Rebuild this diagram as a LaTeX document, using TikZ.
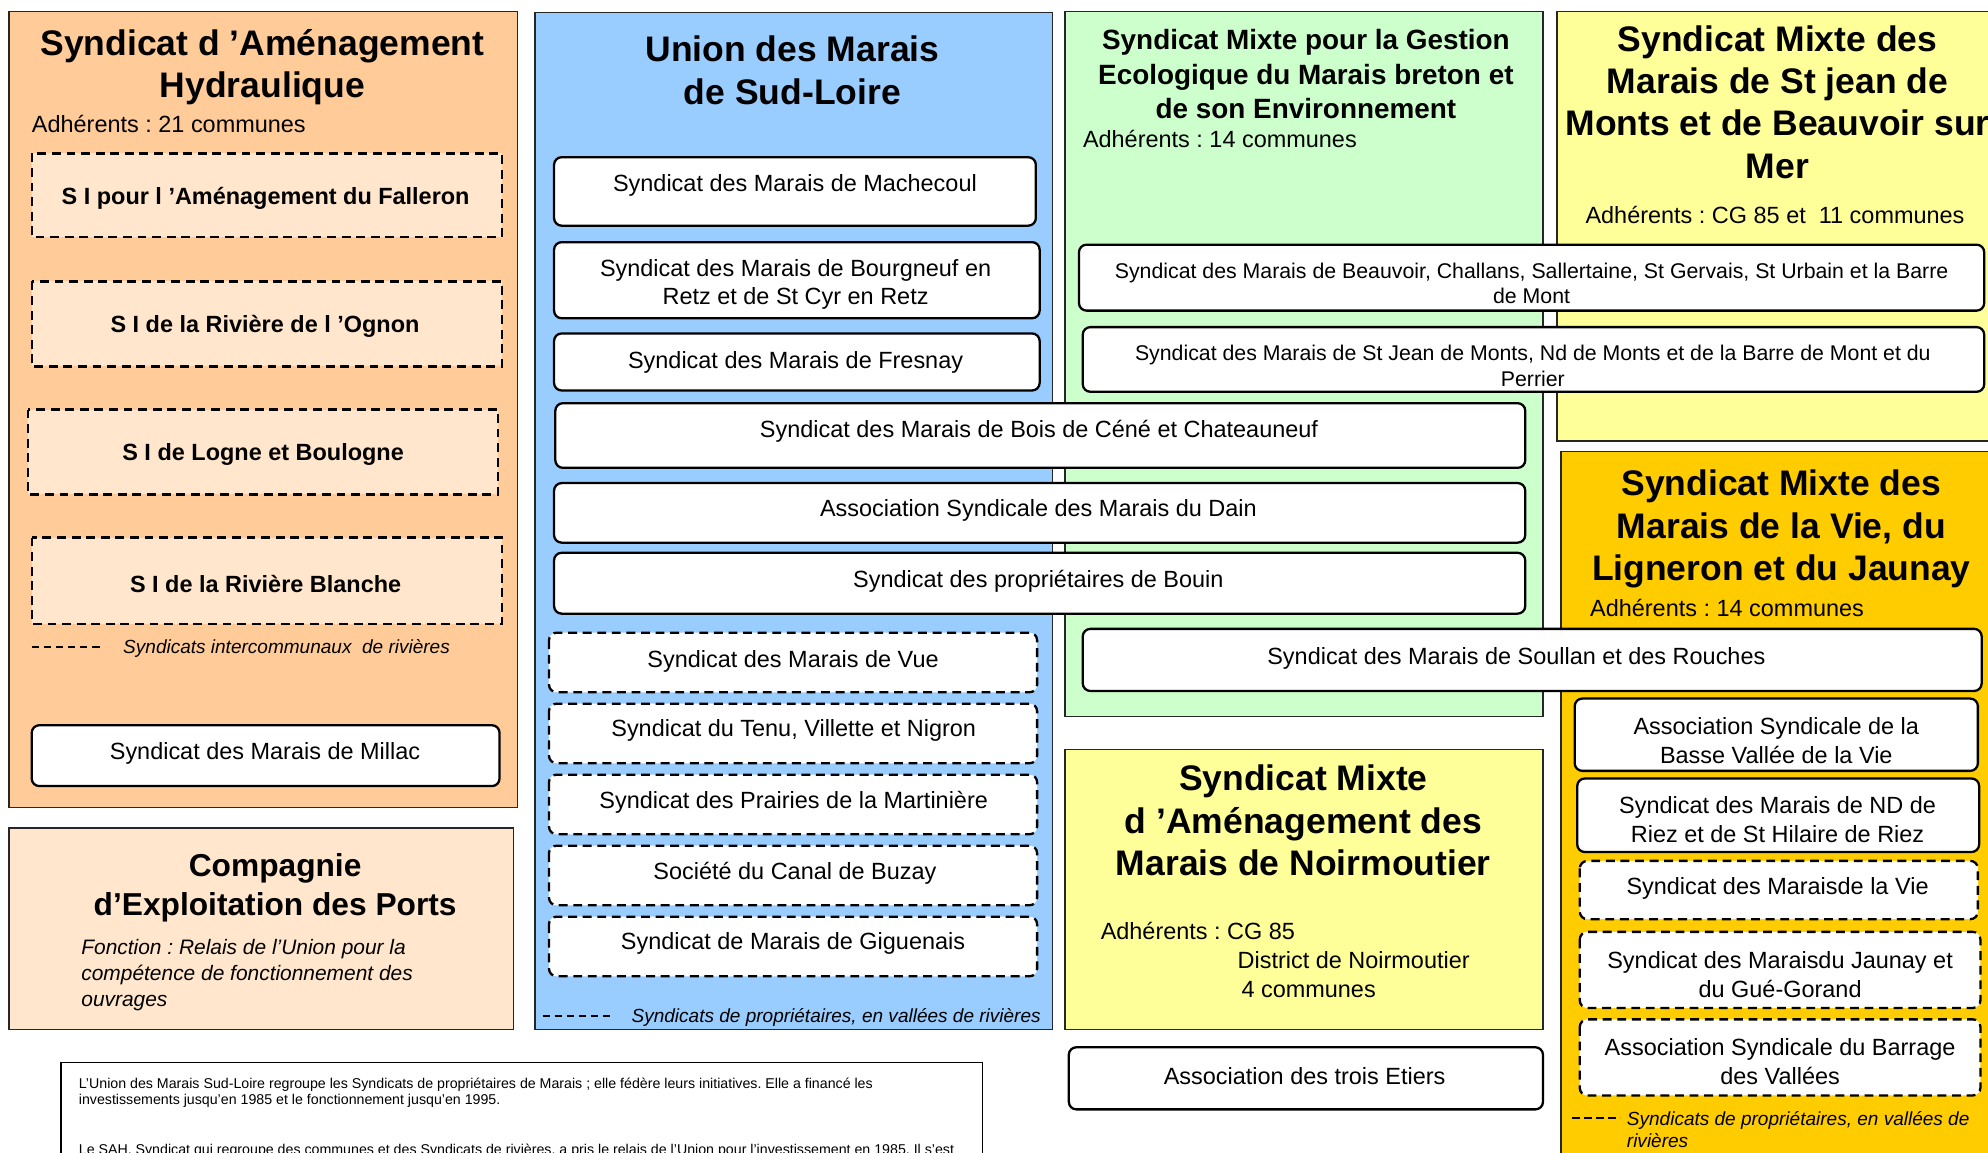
\documentclass[tikz,border=0pt]{standalone}
\usepackage{fontspec}
\setmainfont{Liberation Sans}
\usepackage{tikz}

\definecolor{sahorange}{HTML}{FFCC99}
\definecolor{sahlight}{HTML}{FFE6CC}
\definecolor{unionblue}{HTML}{99CCFF}
\definecolor{bretongreen}{HTML}{CCFFCC}
\definecolor{mixteyellow}{HTML}{FFFF99}
\definecolor{viegold}{HTML}{FFCC00}

\newcommand{\mtitle}{\fontsize{28}{33.5}\selectfont\bfseries}
\newcommand{\mgreen}{\fontsize{22}{27}\selectfont\bfseries}
\newcommand{\mports}{\fontsize{25}{31}\selectfont\bfseries}
\newcommand{\mbody}{\fontsize{18.5}{22.5}\selectfont}
\newcommand{\msmall}{\fontsize{16.8}{20}\selectfont}
\newcommand{\mnote}{\fontsize{15}{17}\selectfont\itshape}
\newcommand{\mtiny}{\fontsize{11.2}{13}\selectfont}

\begin{document}
\frenchspacing
\begin{tikzpicture}[x=1pt, y=-1pt,
	panel/.style={draw=black!85, line width=1.2pt},
	solidbox/.style={draw=black, fill=white, line width=1.8pt, rounded corners=6pt},
	dashbox/.style={solidbox, dash pattern=on 7pt off 4.5pt},
	sibox/.style={draw=black, fill=sahlight, line width=1.8pt, dash pattern=on 7pt off 4.5pt},
	legend/.style={line width=1.6pt, dash pattern=on 6pt off 3.5pt},
	lbl/.style={inner sep=0pt, align=center, yshift=-1.5pt}]

	\useasboundingbox (0,0) rectangle (1568,909.4);

	% panels
	\draw[panel, fill=sahorange] (7,9) rectangle (408,637);
	\draw[panel, fill=sahlight] (7,653) rectangle (405,812);
	\draw[panel, fill=unionblue] (422,10) rectangle (830,812);
	\draw[panel, fill=bretongreen] (840,9) rectangle (1217,565);
	\draw[panel, fill=mixteyellow] (1228,9) rectangle (1590,348);
	\draw[panel, fill=viegold] (1231,356) rectangle (1590,930);
	\draw[panel, fill=mixteyellow] (840,591) rectangle (1217,812);
	\draw[line width=1.2pt, fill=white] (48,838) rectangle (775,960);

	% Syndicat d'Amenagement Hydraulique
	\node[lbl, font=\mtitle] (sah) at (207,51.5) {Syndicat d 'Aménagement\\Hydraulique};
	\node[lbl, anchor=west, font=\mbody] (sahadh) at (25,96) {Adhérents : 21 communes};
	\draw[sibox] (25,121) rectangle (396,187);
	\node[lbl, font=\mbody\bfseries] (falleron) at (209.5,155) {S I pour l 'Aménagement du Falleron};
	\draw[sibox] (25,222) rectangle (396,289);
	\node[lbl, font=\mbody\bfseries] (ognon) at (209,256) {S I de la Rivière de l 'Ognon};
	\draw[sibox] (22,323) rectangle (393,390);
	\node[lbl, font=\mbody\bfseries] (logne) at (207.5,357) {S I de Logne et Boulogne};
	\draw[sibox] (25,424) rectangle (396,492);
	\node[lbl, font=\mbody\bfseries] (blanche) at (209.5,459) {S I de la Rivière Blanche};
	\draw[legend] (25,510) -- (80,510);
	\node[lbl, anchor=west, font=\mnote] (sahleg) at (97,510) {Syndicats intercommunaux\ \ de rivières};
	\draw[solidbox] (25,572) rectangle (394,620);
	\node[lbl, font=\mbody] (millac) at (209,593) {Syndicat des Marais de Millac};

	% Compagnie d'Exploitation des Ports
	\node[lbl, font=\mports] (cep) at (217,698.5) {Compagnie\\d’Exploitation des Ports};
	\node[lbl, anchor=west, align=left, font=\fontsize{16.5}{20.5}\selectfont\itshape] (cepfct) at (64,767.5)
		{Fonction : Relais de l’Union pour la\\compétence de fonctionnement des\\ouvrages};

	% note
	\node[lbl, anchor=west, align=left, font=\mtiny] (note1) at (62,860.5)
		{L’Union des Marais Sud-Loire regroupe les Syndicats de propriétaires de Marais ; elle fédère leurs initiatives. Elle a financé les\\investissements jusqu’en 1985 et le fonctionnement jusqu’en 1995.};
	\node[lbl, anchor=west, font=\mtiny] (note2) at (62,906)
		{Le SAH, Syndicat qui regroupe des communes et des Syndicats de rivières, a pris le relais de l’Union pour l’investissement en 1985. Il s’est};

	% Union des Marais de Sud-Loire
	\node[lbl, font=\mtitle] (union) at (625,54) {Union des Marais\\de Sud-Loire};
	\draw[solidbox] (437,124) rectangle (817,178);
	\node[lbl, font=\mbody] (machecoul) at (627,145) {Syndicat des Marais de Machecoul};
	\draw[solidbox] (437,191) rectangle (820,251);
	\node[lbl, font=\mbody] (bourgneuf) at (627.5,223) {Syndicat des Marais de Bourgneuf en\\Retz et de St Cyr en Retz};
	\draw[solidbox] (437,263) rectangle (820,308);
	\node[lbl, font=\mbody] (fresnay) at (627.5,284) {Syndicat des Marais de Fresnay};
	\draw[solidbox] (438,318) rectangle (1203,369);
	\node[lbl, font=\mbody] (bois) at (819.5,339) {Syndicat des Marais de Bois de Céné et Chateauneuf};
	\draw[solidbox] (437,381) rectangle (1203,428);
	\node[lbl, font=\mbody] (dain) at (819,401) {Association Syndicale des Marais du Dain};
	\draw[solidbox] (437,436) rectangle (1203,484);
	\node[lbl, font=\mbody] (bouin) at (819,457) {Syndicat des propriétaires de Bouin};
	\draw[dashbox] (433,499) rectangle (818,546);
	\node[lbl, font=\mbody] (vue) at (625.5,520) {Syndicat des Marais de Vue};
	\draw[dashbox] (433,555) rectangle (818,602);
	\node[lbl, font=\mbody] (tenu) at (626,575) {Syndicat du Tenu, Villette et Nigron};
	\draw[dashbox] (433,611) rectangle (818,658);
	\node[lbl, font=\mbody] (prairies) at (626,631) {Syndicat des Prairies de la Martinière};
	\draw[dashbox] (433,667) rectangle (818,714);
	\node[lbl, font=\mbody] (buzay) at (627,687) {Société du Canal de Buzay};
	\draw[dashbox] (433,723) rectangle (818,770);
	\node[lbl, font=\mbody] (giguenais) at (625.5,743) {Syndicat de Marais de Giguenais};
	\draw[legend] (428,801) -- (485,801);
	\node[lbl, anchor=west, font=\mnote] (unionleg) at (498,801) {Syndicats de propriétaires, en vallées de rivières};

	% Marais breton
	\node[lbl, font=\mgreen] (breton) at (1030,57) {Syndicat Mixte pour la Gestion\\Ecologique du Marais breton et\\de son Environnement};
	\node[lbl, anchor=west, font=\mbody] (bretonadh) at (854,108) {Adhérents : 14 communes};
	\draw[solidbox] (851,193) rectangle (1565,245);
	\node[lbl, font=\msmall] (beauvoir) at (1208,222) {Syndicat des Marais de Beauvoir, Challans, Sallertaine, St Gervais, St Urbain et la Barre\\de Mont};
	\draw[solidbox] (854,258) rectangle (1565,309);
	\node[lbl, font=\msmall] (stjean) at (1209,287) {Syndicat des Marais de St Jean de Monts, Nd de Monts et de la Barre de Mont et du\\Perrier};
	\draw[solidbox] (854,496) rectangle (1563,545);
	\node[lbl, font=\mbody] (soullan) at (1196,518) {Syndicat des Marais de Soullan et des Rouches};

	% St Jean de Monts et Beauvoir
	\node[lbl, font=\mtitle] (smjb) at (1402,79) {Syndicat Mixte des\\Marais de St jean de\\Monts et de Beauvoir sur\\Mer};
	\node[lbl, font=\mbody] (smjbadh) at (1400,168) {Adhérents : CG 85 et\ \ 11 communes};

	% Vie, Ligneron et Jaunay
	\node[lbl, font=\mtitle] (vie) at (1405,416) {Syndicat Mixte des\\Marais de la Vie, du\\Ligneron et du Jaunay};
	\node[lbl, anchor=west, font=\mbody] (vieadh) at (1254,478) {Adhérents : 14 communes};
	\draw[solidbox] (1242,551) rectangle (1560,608);
	\node[lbl, font=\mbody] (basse) at (1401,582.5) {Association Syndicale de la\\Basse Vallée de la Vie};
	\draw[solidbox] (1244,614) rectangle (1561,672);
	\node[lbl, font=\mbody] (riez) at (1402,645) {Syndicat des Marais de ND de\\Riez et de St Hilaire de Riez};
	\draw[dashbox] (1246,679) rectangle (1560,725);
	\node[lbl, font=\mbody] (maraisvie) at (1402,699) {Syndicat des Maraisde la Vie};
	\draw[dashbox] (1246,735) rectangle (1562,795);
	\node[lbl, font=\mbody] (jaunay) at (1404,767) {Syndicat des Maraisdu Jaunay et\\du Gué-Gorand};
	\draw[dashbox] (1246,804) rectangle (1562,864);
	\node[lbl, font=\mbody] (barrage) at (1404,836) {Association Syndicale du Barrage\\des Vallées};
	\draw[legend] (1240,882) -- (1278,882);
	\node[lbl, anchor=west, align=left, font=\mnote] (vieleg) at (1283,889.5) {Syndicats de propriétaires, en vallées de\\rivières};

	% Noirmoutier
	\node[lbl, font=\mtitle] (noir) at (1028,645.5) {Syndicat Mixte\\d 'Aménagement des\\Marais de Noirmoutier};
	\node[lbl, anchor=west, font=\mbody] (noiradh) at (868,733) {Adhérents : CG 85};
	\node[lbl, anchor=west, font=\mbody] (noirdist) at (976,756) {District de Noirmoutier};
	\node[lbl, anchor=west, font=\mbody] (noircom) at (979,779) {4 communes};
	\draw[solidbox] (843,826) rectangle (1217,875);
	\node[lbl, font=\mbody] (etiers) at (1029,847) {Association des trois Etiers};
\end{tikzpicture}
\end{document}
